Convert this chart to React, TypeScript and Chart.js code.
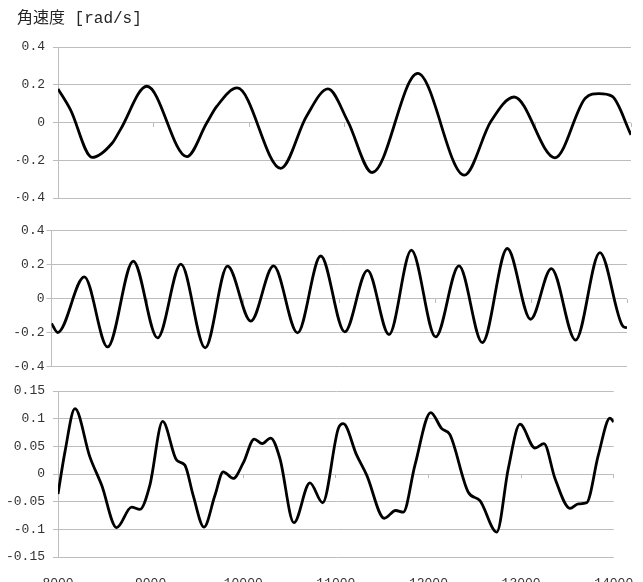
import React, { useEffect, useRef } from 'react';
import { Chart, registerables } from 'chart.js';

Chart.register(...registerables);

// ---- data ----
const titleText = '角速度 [rad/s]';
const xTicks = [8000, 9000, 10000, 11000, 12000, 13000, 14000];
const yTicksTop = [-0.4, -0.2, 0, 0.2, 0.4];
const yTicksMid = [-0.4, -0.2, 0, 0.2, 0.4];
const yTicksBottom = [-0.15, -0.1, -0.05, 0, 0.05, 0.1, 0.15];

const time1 = [8000, 8130, 8357, 8566, 8652, 8931, 9349, 9557, 9662, 9877, 10333, 10601, 10827, 11036, 11290, 11766, 12254, 12532, 12776, 13204, 13524, 13663, 13802, 14000];
const omega1 = [0.178, 0.068, -0.185, -0.11, -0.039, 0.192, -0.181, -0.003, 0.085, 0.183, -0.243, 0.032, 0.178, 0.005, -0.265, 0.26, -0.279, 0.005, 0.135, -0.187, 0.13, 0.153, 0.139, -0.065];

const time2 = [8000, 8065, 8342, 8585, 8852, 9106, 9349, 9602, 9835, 10078, 10315, 10565, 10807, 11057, 11294, 11519, 11752, 12005, 12248, 12492, 12752, 12995, 13211, 13464, 13717, 13960, 14000];
const omega2 = [-0.147, -0.2, 0.127, -0.285, 0.219, -0.232, 0.202, -0.29, 0.19, -0.133, 0.192, -0.202, 0.25, -0.196, 0.166, -0.212, 0.284, -0.226, 0.192, -0.259, 0.294, -0.122, 0.176, -0.245, 0.27, -0.165, -0.172];

const time3 = [8000, 8075, 8183, 8344, 8471, 8633, 8795, 8884, 8992, 9130, 9281, 9370, 9460, 9576, 9694, 9784, 9892, 10000, 10119, 10205, 10296, 10396, 10547, 10720, 10857, 11026, 11080, 11225, 11333, 11523, 11646, 11728, 11854, 12024, 12143, 12232, 12430, 12556, 12737, 12862, 12988, 13150, 13247, 13366, 13528, 13618, 13708, 13834, 13960, 14000];
const omega3 = [-0.036, 0.04, 0.118, 0.031, -0.02, -0.097, -0.06, -0.064, -0.02, 0.095, 0.025, 0.016, -0.039, -0.096, -0.039, 0.004, -0.008, 0.02, 0.063, 0.055, 0.065, 0.028, -0.088, -0.016, -0.052, 0.082, 0.091, 0.034, -0.002, -0.08, -0.066, -0.069, 0.016, 0.111, 0.082, 0.071, -0.033, -0.048, -0.105, 0.01, 0.09, 0.047, 0.055, -0.008, -0.062, -0.054, -0.052, 0.034, 0.101, 0.094];

// ---- panel layout ----
type Spec = {
  top: number;
  height: number;
  xs: number[];
  ys: number[];
  yTicks: number[];
  yWidth: number;
  tickPad: number;
  pad: { left: number; right: number; top: number; bottom: number };
  title?: string;
  bottomLabels?: boolean;
};

const specs: Spec[] = [
  { top: 0, height: 207, xs: time1, ys: omega1, yTicks: yTicksTop, yWidth: 41, tickPad: 8, pad: { left: 17, right: 12, top: 0, bottom: 9 }, title: titleText },
  { top: 215, height: 160, xs: time2, ys: omega2, yTicks: yTicksMid, yWidth: 51.5, tickPad: 2, pad: { left: 0, right: 16, top: 15.5, bottom: 8.5 } },
  { top: 381, height: 216, xs: time3, ys: omega3, yTicks: yTicksBottom, yWidth: 58, tickPad: 8, pad: { left: 0, right: 29.3, top: 10, bottom: 0 }, bottomLabels: true },
];

const FONT = "'Liberation Mono', 'Noto Sans CJK JP', monospace";
const GRID = '#bdbdbd';
const TEXT = '#333333';

function Panel({ spec }: { spec: Spec }) {
  const ref = useRef<HTMLCanvasElement>(null);
  useEffect(() => {
    if (!ref.current) return;
    const ys = spec.yTicks;
    const scales: any = {
      x: {
        type: 'linear',
        min: xTicks[0],
        max: xTicks[xTicks.length - 1],
        position: { y: 0 },
        afterBuildTicks: (s: any) => { s.ticks = xTicks.map((v) => ({ value: v })); },
        afterFit: (s: any) => { s.height = 0; s.paddingLeft = 0; s.paddingRight = 0; s.paddingTop = 0; s.paddingBottom = 0; },
        grid: { drawOnChartArea: false, drawTicks: true, tickLength: 4, color: GRID, lineWidth: 1 },
        border: { display: false },
        ticks: { display: false },
      },
      y: {
        type: 'linear',
        min: ys[0],
        max: ys[ys.length - 1],
        afterBuildTicks: (s: any) => { s.ticks = ys.map((v) => ({ value: v })); },
        afterFit: (s: any) => { s.width = spec.yWidth; s.paddingTop = 0; s.paddingBottom = 0; },
        grid: { color: GRID, lineWidth: 1, tickLength: 5, drawTicks: true },
        border: { display: true, color: GRID, width: 1 },
        ticks: { padding: spec.tickPad, color: TEXT, font: { family: FONT, size: 13 }, callback: (v: any) => String(v) },
      },
    };
    if (spec.bottomLabels) {
      scales.x2 = {
        type: 'linear',
        position: 'bottom',
        min: xTicks[0],
        max: xTicks[xTicks.length - 1],
        afterBuildTicks: (s: any) => { s.ticks = xTicks.map((v) => ({ value: v })); },
        afterFit: (s: any) => { s.height = 40; s.paddingLeft = 0; s.paddingRight = 0; },
        grid: { display: false, drawTicks: false },
        border: { display: false },
        ticks: { padding: 19, color: TEXT, font: { family: FONT, size: 13 }, maxRotation: 0, autoSkip: false, callback: (v: any) => String(v) },
      };
    }
    const chart = new Chart(ref.current, {
      type: 'line',
      data: {
        datasets: [
          {
            data: spec.xs.map((x, i) => ({ x, y: spec.ys[i] })),
            borderColor: '#000000',
            borderWidth: 2.8,
            pointRadius: 0,
            cubicInterpolationMode: 'monotone',
            fill: false,
            xAxisID: 'x',
            yAxisID: 'y',
          },
        ],
      },
      options: {
        animation: false,
        responsive: false,
        maintainAspectRatio: false,
        layout: { padding: spec.pad },
        scales,
        plugins: {
          legend: { display: false },
          tooltip: { enabled: false },
          title: spec.title
            ? {
                display: true,
                text: spec.title,
                align: 'start',
                color: '#262626',
                font: { family: FONT, size: 16, weight: 'normal', lineHeight: 1.2 },
                padding: { top: 9, bottom: 18.8 },
              }
            : { display: false },
        },
      } as any,
    });
    return () => chart.destroy();
  }, [spec]);
  return (
    <div style={{ position: 'absolute', left: 0, top: spec.top, width: 643, height: spec.height }}>
      <canvas ref={ref} width={643} height={spec.height} style={{ display: 'block', width: 643, height: spec.height }} />
    </div>
  );
}

export default function App() {
  return (
    <div style={{ position: 'fixed', left: 0, top: 0, width: 643, height: 582, overflow: 'hidden', background: '#ffffff' }}>
      {specs.map((s, i) => (
        <Panel key={i} spec={s} />
      ))}
    </div>
  );
}
